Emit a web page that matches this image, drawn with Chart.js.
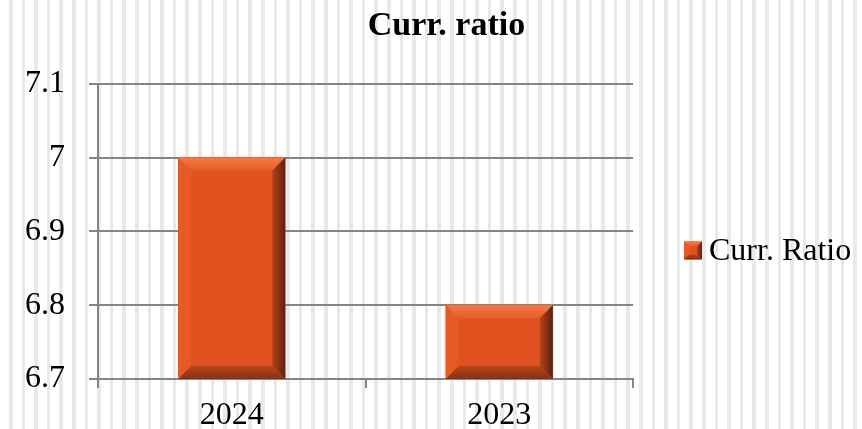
<!DOCTYPE html>
<html>
<head>
<meta charset="utf-8">
<script src="https://cdn.jsdelivr.net/npm/chart.js@4/dist/chart.umd.min.js"></script>
<style>
  html, body { margin: 0; padding: 0; }
  body {
    width: 862px; height: 429px; overflow: hidden;
    background: repeating-linear-gradient(90deg, #ffffff 0px, #ffffff 9px, #e9e9e9 9px, #e9e9e9 12.6px);
  }
  #wrap { position: relative; width: 892px; height: 429px; }
</style>
</head>
<body>
<div id="wrap"><canvas id="myChart"></canvas></div>
<script>
const categories = ["2024", "2023"];
const ratioValues = [7.0, 6.8];
const seriesName = "Curr. Ratio";
const chartTitle = "Curr. ratio";
const yMin = 6.7;
const yMax = 7.1;
const yStep = 0.1;

const serif = "'Liberation Serif', 'Times New Roman', serif";
const face = "#e0521f";

// bevelled look of the bars, drawn over each bar element
function bevel(ctx, l, t, r, b, s) {
  ctx.save();
  ctx.fillStyle = face;
  ctx.fillRect(l, t, r - l, b - t);
  // top
  let g = ctx.createLinearGradient(0, t, 0, t + s);
  g.addColorStop(0, "#f57a45");
  g.addColorStop(1, "#e75d28");
  ctx.fillStyle = g;
  ctx.beginPath();
  ctx.moveTo(l, t); ctx.lineTo(r, t); ctx.lineTo(r - s, t + s); ctx.lineTo(l + s, t + s);
  ctx.closePath(); ctx.fill();
  // left
  ctx.fillStyle = "#e55a25";
  ctx.beginPath();
  ctx.moveTo(l, t); ctx.lineTo(l + s, t + s); ctx.lineTo(l + s, b - s); ctx.lineTo(l, b);
  ctx.closePath(); ctx.fill();
  // right
  g = ctx.createLinearGradient(r - s, 0, r, 0);
  g.addColorStop(0, "#b8421a");
  g.addColorStop(1, "#5e200c");
  ctx.fillStyle = g;
  ctx.beginPath();
  ctx.moveTo(r, t); ctx.lineTo(r, b); ctx.lineTo(r - s, b - s); ctx.lineTo(r - s, t + s);
  ctx.closePath(); ctx.fill();
  // bottom
  g = ctx.createLinearGradient(0, b - s, 0, b);
  g.addColorStop(0, "#b8441b");
  g.addColorStop(1, "#8a3012");
  ctx.fillStyle = g;
  ctx.beginPath();
  ctx.moveTo(l, b); ctx.lineTo(r, b); ctx.lineTo(r - s, b - s); ctx.lineTo(l + s, b - s);
  ctx.closePath(); ctx.fill();
  ctx.restore();
}

const bevelBars = {
  id: "bevelBars",
  afterDatasetsDraw(chart) {
    const ctx = chart.ctx;
    const bottom = chart.chartArea.bottom;
    chart.getDatasetMeta(0).data.forEach(bar => {
      const p = bar.getProps(["x", "y", "base", "width"], true);
      bevel(ctx, p.x - p.width / 2, p.y, p.x + p.width / 2, Math.min(p.base, bottom), 13);
    });
  }
};

const sideLegend = {
  id: "sideLegend",
  afterDraw(chart) {
    const ctx = chart.ctx;
    const area = chart.chartArea;
    const cy = (area.top + area.bottom) / 2 + 19;
    const x = 684;
    bevel(ctx, x, cy - 9, x + 18, cy + 9, 5);
    ctx.save();
    ctx.fillStyle = "#000";
    ctx.font = "32px " + serif;
    ctx.textBaseline = "middle";
    ctx.fillText(chart.data.datasets[0].label, x + 25, cy + 1);
    ctx.restore();
  }
};

const ctx = document.getElementById("myChart").getContext("2d");
const chart = new Chart(ctx, {
  type: "bar",
  data: {
    labels: categories,
    datasets: [
      {
        label: seriesName,
        backgroundColor: face,
        data: ratioValues,
        barPercentage: 0.4,
        categoryPercentage: 1.0
      }
    ]
  },
  options: {
    responsive: true,
    maintainAspectRatio: false,
    animation: false,
    layout: { padding: { left: 1, right: 0, top: 0, bottom: -14 } },
    plugins: {
      legend: { display: false },
      tooltip: { enabled: false },
      title: {
        display: true,
        text: chartTitle,
        color: "#000",
        font: { family: serif, size: 34, weight: "bold" },
        padding: { top: 6, bottom: 37 }
      }
    },
    scales: {
      x: {
        grid: { offset: true, drawOnChartArea: false, drawTicks: true, tickLength: 9, color: "#858585", lineWidth: 2 },
        border: { display: true, color: "#858585", width: 2 },
        ticks: { color: "#000", font: { family: serif, size: 32, lineHeight: 1 }, padding: 11.5 }
      },
      y: {
        min: yMin,
        max: yMax,
        grid: { color: "#858585", lineWidth: 2, tickLength: 9 },
        border: { display: true, color: "#858585", width: 2 },
        ticks: {
          stepSize: yStep,
          color: "#000",
          font: { family: serif, size: 32 },
          padding: 24,
          callback: v => String(Number(v.toFixed(1)))
        }
      },
      // empty space on the right where the legend sits
      side: {
        position: "right",
        display: true,
        grid: { display: false },
        border: { display: false },
        ticks: { display: false },
        afterFit: scale => { scale.width = 259; }
      }
    }
  },
  plugins: [bevelBars, sideLegend]
});
</script>
</body>
</html>
